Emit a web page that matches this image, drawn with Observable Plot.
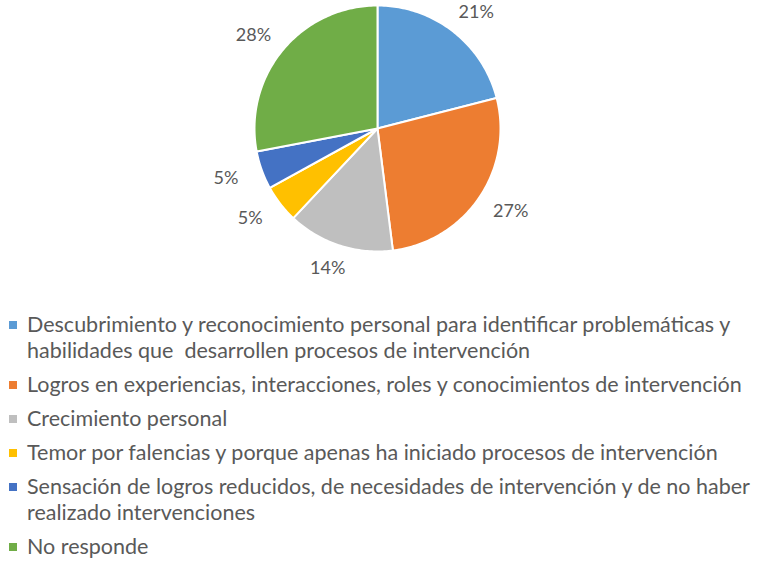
<!DOCTYPE html>
<html><head><meta charset="utf-8">
<script src="https://cdn.jsdelivr.net/npm/d3@7"></script>
<script src="https://cdn.jsdelivr.net/npm/@observablehq/plot@0.6"></script>
<style>
body{margin:0;background:#fff;font-family:Lato,"Open Sans",sans-serif;}
#legend{margin-top:31px;padding-left:9px;color:#595959;font-size:21.5px;line-height:26px;}
.item{display:flex;align-items:flex-start;margin-bottom:8px;}
.sw{width:8px;height:8px;flex:none;margin-top:10px;margin-right:10px;}
.tx{white-space:pre;}
</style></head>
<body><div id="chart"></div><div id="legend"></div>
<script>
const categories = [
  "Descubrimiento y reconocimiento personal para identificar problemáticas y\nhabilidades que  desarrollen procesos de intervención",
  "Logros en experiencias, interacciones, roles y conocimientos de intervención",
  "Crecimiento personal",
  "Temor por falencias y porque apenas ha iniciado procesos de intervención",
  "Sensación de logros reducidos, de necesidades de intervención y de no haber\nrealizado intervenciones",
  "No responde"
];
const values = [21, 27, 14, 5, 5, 28];
const colors = ["#5B9BD5", "#ED7D31", "#BFBFBF", "#FFC000", "#4472C4", "#70AD47"];

const W = 757, H = 280, cx = 377, cy = 128, R = 123;
const arcs = d3.pie().sort(null).value(d => d)(values);
const pts = [];
arcs.forEach((a, i) => {
  pts.push({k: i, x: 0, y: 0});
  const n = Math.max(4, Math.ceil((a.endAngle - a.startAngle) * 180 / Math.PI));
  for (let j = 0; j <= n; j++) {
    const t = a.startAngle + (a.endAngle - a.startAngle) * j / n;
    pts.push({k: i, x: R * Math.sin(t), y: -R * Math.cos(t)});
  }
  pts.push({k: i, x: 0, y: 0});
});
const labels = arcs.map((a, i) => {
  const m = (a.startAngle + a.endAngle) / 2, r = R + 18;
  return {t: values[i] + "%", x: r * Math.sin(m) + 20 * Math.sin(m), y: -r * Math.cos(m) - 6 * Math.cos(m)};
});

const plot = Plot.plot({
  width: W, height: H, margin: 0,
  x: {domain: [-cx, W - cx], axis: null},
  y: {domain: [H - cy, -cy], axis: null},
  color: {domain: d3.range(6), range: colors},
  marks: [
    Plot.line(pts, {x: "x", y: "y", z: "k", fill: d => d.k, stroke: "white", strokeWidth: 2, curve: "linear"}),
    Plot.text(labels, {x: "x", y: "y", text: "t", fill: "#595959", fontSize: 18, fontFamily: "Lato, 'Open Sans', sans-serif"})
  ]
});
document.getElementById("chart").appendChild(plot);

const lg = document.getElementById("legend");
categories.forEach((c, i) => {
  const it = document.createElement("div"); it.className = "item";
  const sw = document.createElement("div"); sw.className = "sw"; sw.style.background = colors[i];
  const tx = document.createElement("div"); tx.className = "tx"; tx.textContent = c;
  it.appendChild(sw); it.appendChild(tx); lg.appendChild(it);
});
</script></body></html>
